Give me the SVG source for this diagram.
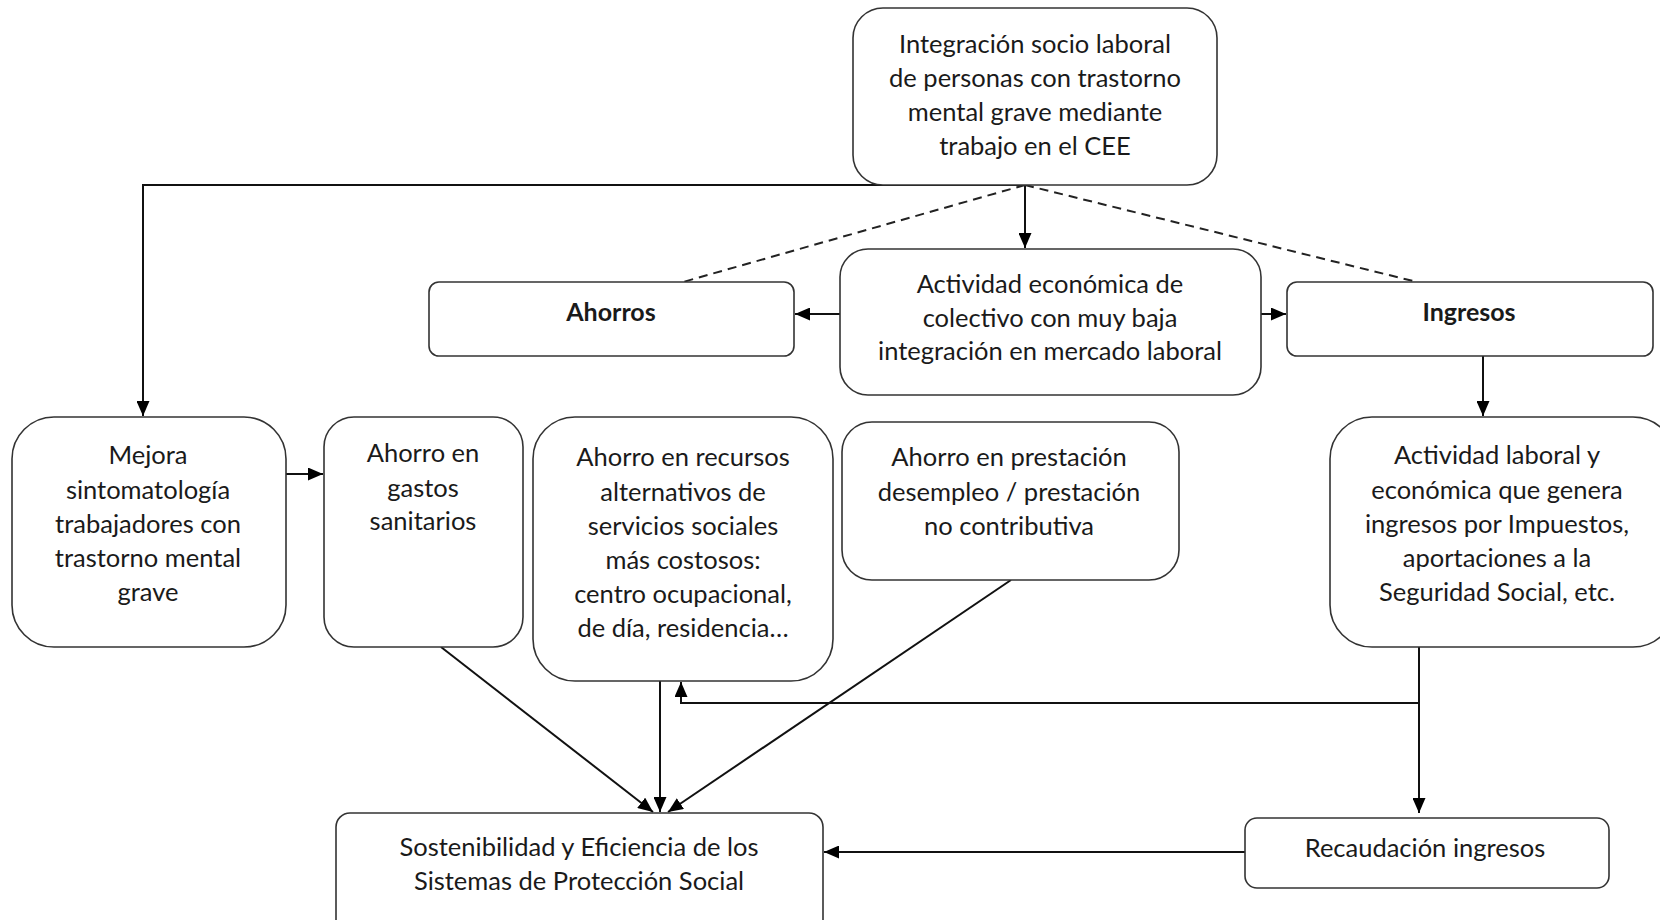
<svg xmlns="http://www.w3.org/2000/svg" width="1660" height="920" viewBox="0 0 1660 920">
<style>
.box{fill:#fff;stroke:#333;stroke-width:1.6}
.t{font-family:Lato,"Liberation Sans",sans-serif;font-size:25.5px;fill:#1a1a1a;text-anchor:middle}
.b{font-weight:bold;font-size:25px}
.c{fill:none;stroke:#111;stroke-width:2}
.d{fill:none;stroke:#222;stroke-width:2;stroke-dasharray:9 6}
</style>
<defs>
<marker id="ah" markerUnits="userSpaceOnUse" markerWidth="15" markerHeight="13" refX="15" refY="6.5" orient="auto">
<path d="M0,0 L15,6.5 L0,13 z" fill="#000"/>
</marker>
</defs>
<rect width="1660" height="920" fill="#fff"/>
<g id="connectors">
<path class="c" d="M1025,185 H143 V416" marker-end="url(#ah)"/>
<path class="c" d="M1025,185 V248" marker-end="url(#ah)"/>
<path class="d" d="M1025,185 L683,282"/>
<path class="d" d="M1025,185 L1417,282"/>
<path class="c" d="M840,314 H795" marker-end="url(#ah)"/>
<path class="c" d="M1261,314 H1286" marker-end="url(#ah)"/>
<path class="c" d="M1483,356 V416" marker-end="url(#ah)"/>
<path class="c" d="M286,474 H323" marker-end="url(#ah)"/>
<path class="c" d="M441,647 L653,812" marker-end="url(#ah)"/>
<path class="c" d="M660,681 V812" marker-end="url(#ah)"/>
<path class="c" d="M1011,580 L668,812" marker-end="url(#ah)"/>
<path class="c" d="M1419,647 V813" marker-end="url(#ah)"/>
<path class="c" d="M1419,703 H681 V682" marker-end="url(#ah)"/>
<path class="c" d="M1245,852 H824" marker-end="url(#ah)"/>
</g>
<g id="n-integracion">
<rect class="box" x="853" y="8" width="364" height="177" rx="30"/>
<text class="t" x="1035" y="53">Integración socio laboral</text>
<text class="t" x="1035" y="87">de personas con trastorno</text>
<text class="t" x="1035" y="121">mental grave mediante</text>
<text class="t" x="1035" y="155">trabajo en el CEE</text>
</g>
<g id="n-ahorros">
<rect class="box" x="429" y="282" width="365" height="74" rx="10"/>
<text class="t b" x="611" y="321">Ahorros</text>
</g>
<g id="n-actividad-economica">
<rect class="box" x="840" y="249" width="421" height="146" rx="28"/>
<text class="t" x="1050" y="293">Actividad económica de</text>
<text class="t" x="1050" y="327">colectivo con muy baja</text>
<text class="t" x="1050" y="360">integración en mercado laboral</text>
</g>
<g id="n-ingresos">
<rect class="box" x="1287" y="282" width="366" height="74" rx="10"/>
<text class="t b" x="1469" y="321">Ingresos</text>
</g>
<g id="n-mejora">
<rect class="box" x="12" y="417" width="274" height="230" rx="42"/>
<text class="t" x="148" y="464">Mejora</text>
<text class="t" x="148" y="499">sintomatología</text>
<text class="t" x="148" y="533">trabajadores con</text>
<text class="t" x="148" y="567">trastorno mental</text>
<text class="t" x="148" y="601">grave</text>
</g>
<g id="n-gastos">
<rect class="box" x="324" y="417" width="199" height="230" rx="30"/>
<text class="t" x="423" y="462">Ahorro en</text>
<text class="t" x="423" y="497">gastos</text>
<text class="t" x="423" y="530">sanitarios</text>
</g>
<g id="n-recursos">
<rect class="box" x="533" y="417" width="300" height="264" rx="42"/>
<text class="t" x="683" y="466">Ahorro en recursos</text>
<text class="t" x="683" y="501">alternativos de</text>
<text class="t" x="683" y="535">servicios sociales</text>
<text class="t" x="683" y="569">más costosos:</text>
<text class="t" x="683" y="603">centro ocupacional,</text>
<text class="t" x="683" y="637">de día, residencia…</text>
</g>
<g id="n-prestacion">
<rect class="box" x="842" y="422" width="337" height="158" rx="30"/>
<text class="t" x="1009" y="466">Ahorro en prestación</text>
<text class="t" x="1009" y="501">desempleo / prestación</text>
<text class="t" x="1009" y="535">no contributiva</text>
</g>
<g id="n-actividad-laboral">
<rect class="box" x="1330" y="417" width="345" height="230" rx="42"/>
<text class="t" x="1497" y="464">Actividad laboral y</text>
<text class="t" x="1497" y="499">económica que genera</text>
<text class="t" x="1497" y="533">ingresos por Impuestos,</text>
<text class="t" x="1497" y="567">aportaciones a la</text>
<text class="t" x="1497" y="601">Seguridad Social, etc.</text>
</g>
<g id="n-sostenibilidad">
<rect class="box" x="336" y="813" width="487" height="130" rx="14"/>
<text class="t" x="579" y="856">Sostenibilidad y Eficiencia de los</text>
<text class="t" x="579" y="890">Sistemas de Protección Social</text>
</g>
<g id="n-recaudacion">
<rect class="box" x="1245" y="818" width="364" height="70" rx="12"/>
<text class="t" x="1425" y="857">Recaudación ingresos</text>
</g>
</svg>
